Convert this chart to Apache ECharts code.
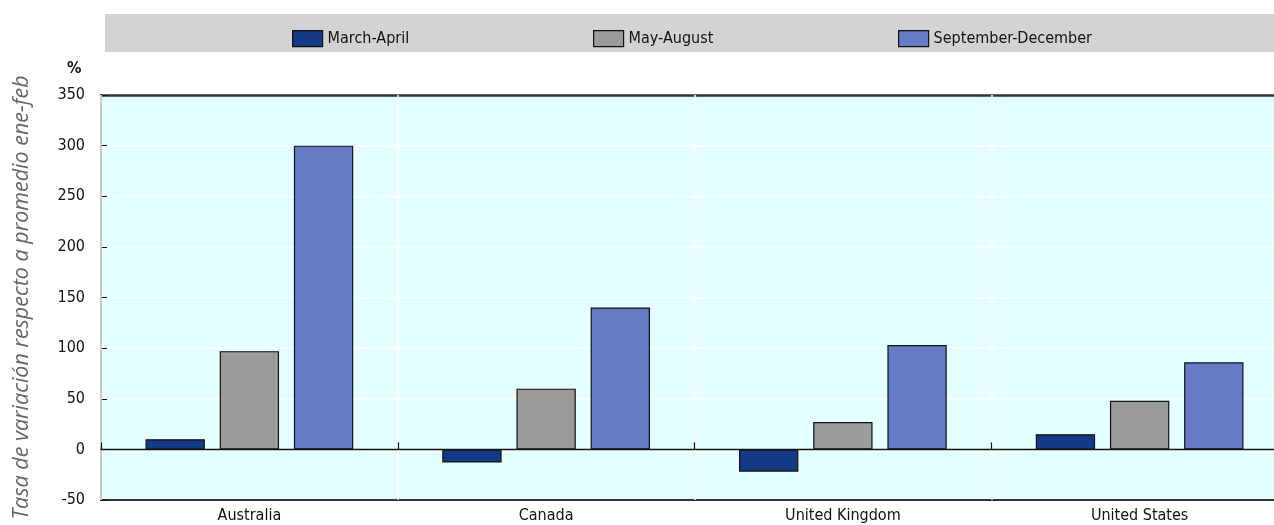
<!DOCTYPE html>
<html>
<head>
<meta charset="utf-8">
<script src="https://cdn.jsdelivr.net/npm/echarts@6/dist/echarts.min.js"></script>
<style>
html,body{margin:0;padding:0;background:#fff;}
#chart{width:1274px;height:525px;}
</style>
</head>
<body>
<div id="chart"></div>
<script>
var categories = ['Australia', 'Canada', 'United Kingdom', 'United States'];
var seriesNames = ['March-April', 'May-August', 'September-December'];
var marchApril = [10, -13, -22, 15];
var mayAugust = [97, 60, 27, 48];
var septDec = [300, 140, 103, 86];
var yTicks = { min: -50, max: 350, interval: 50 };
var yTitle = 'Tasa de variación respecto a promedio ene-feb';
var unitLabel = '%';

var colors = ['#143a85', '#9b9b9b', '#667bc6'];
var narrow = "'Liberation Sans Narrow', 'Arial Narrow', 'DejaVu Sans Condensed', 'Liberation Sans', sans-serif";

var chart = echarts.init(document.getElementById('chart'), null, {renderer: 'canvas'});

function bar(name, data, color) {
  return {
    name: name, type: 'bar', data: data, xAxisIndex: 0,
    barWidth: '20%', barGap: '25%',
    itemStyle: { color: color, borderColor: '#111', borderWidth: 1.2 },
    emphasis: { disabled: true }
  };
}

function legendAt(name, left) {
  return {
    top: 25, left: left, itemWidth: 30, itemHeight: 16,
    icon: 'rect', data: [name],
    itemStyle: { borderColor: '#111', borderWidth: 1.2 },
    textStyle: { fontFamily: narrow, fontSize: 16, color: '#111', padding: [0, 0, 0, 0] },
    selectedMode: false
  };
}

chart.setOption({
  animation: false,
  color: colors,
  graphic: [
    { type: 'rect', left: 105, top: 14, shape: { width: 1200, height: 38 }, style: { fill: '#d3d3d3' }, z: -1 },
    { type: 'text', left: 67, top: 61, style: { text: unitLabel, font: "bold 16px " + narrow, fill: '#111' } }
  ],
  legend: [
    legendAt(seriesNames[0], 287),
    legendAt(seriesNames[1], 588),
    legendAt(seriesNames[2], 893)
  ],
  grid: {
    left: 101, width: 1187, top: 95, height: 405,
    outerBoundsMode: 'none',
    show: true, backgroundColor: '#e4ffff', borderColor: '#333', borderWidth: 0,
    containLabel: false
  },
  xAxis: [
    {
      type: 'category', data: categories,
      axisLine: { onZero: true, lineStyle: { color: '#111', width: 1.3 } },
      axisTick: { show: true, inside: true, length: 7, lineStyle: { color: '#111', width: 1.2 } },
      axisLabel: { show: false },
      splitLine: { show: true, lineStyle: { color: '#ffffff', width: 1.5 } },
      z: 5
    },
    {
      type: 'category', data: categories, position: 'bottom',
      axisLine: { onZero: false, show: true, lineStyle: { color: '#333', width: 2 } },
      axisTick: { show: false },
      axisLabel: { show: true, fontFamily: narrow, fontSize: 16, color: '#111', margin: 8 },
      splitLine: { show: false }
    },
    {
      type: 'category', data: categories, position: 'top',
      axisLine: { onZero: false, show: true, lineStyle: { color: '#333', width: 2.5 } },
      axisTick: { show: false },
      axisLabel: { show: false },
      splitLine: { show: false }
    }
  ],
  yAxis: {
    type: 'value', min: yTicks.min, max: yTicks.max, interval: yTicks.interval,
    name: yTitle, nameLocation: 'middle', nameGap: 68, nameRotate: 90,
    nameTextStyle: { fontFamily: "'Open Sans', 'Noto Sans', sans-serif", fontStyle: 'italic', fontSize: 21.5, color: '#666' },
    axisLine: { show: true, lineStyle: { color: '#333', width: 2 } },
    axisTick: { show: true, inside: true, length: 6, lineStyle: { color: '#111' } },
    axisLabel: { fontFamily: narrow, fontSize: 16, color: '#111', margin: 16 },
    splitLine: { show: true, lineStyle: { color: '#ffffff', width: 1.5 } }
  },
  series: [
    bar(seriesNames[0], marchApril, colors[0]),
    bar(seriesNames[1], mayAugust, colors[1]),
    bar(seriesNames[2], septDec, colors[2])
  ]
});
</script>
</body>
</html>
